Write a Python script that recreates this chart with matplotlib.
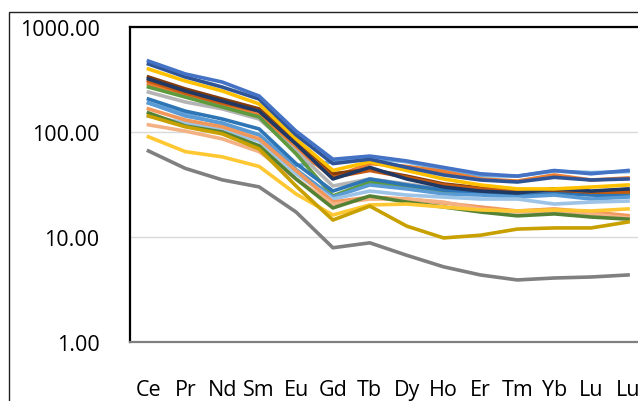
import numpy as np
import matplotlib
matplotlib.use("Agg")
import matplotlib.pyplot as plt
from matplotlib.patches import Rectangle

plt.rcParams['font.family'] = ['Open Sans', 'DejaVu Sans']

# REE categories (the last one is repeated in the original sheet)
elements = ["Ce", "Pr", "Nd", "Sm", "Eu", "Gd", "Tb", "Dy", "Ho", "Er", "Tm", "Yb", "Lu", "Lu"]

# normalised values, one list per sample
s_gray_low = [66, 45, 35, 30, 17.3, 7.9, 8.8, 6.7, 5.2, 4.35, 3.9, 4.07, 4.16, 4.35]
s_dark_gold = [142, 112, 96, 69, 30.6, 14.5, 19.7, 12.7, 9.8, 10.4, 11.9, 12.2, 12.2, 13.9]
s_yellow_low = [90, 65, 58, 47, 25.7, 16.2, 20.2, 20.6, 19.3, 18.1, 17.7, 18.1, 17.7, 18.5]
s_salmon = [117, 102, 86, 65, 35.7, 20.6, 23, 23, 21.5, 18.5, 17.3, 17.7, 16.6, 15.2]
s_salmon2 = [166, 130, 112, 86, 43, 21.5, 24, 23, 21.1, 19.3, 17.7, 18.5, 17.3, 16.0]
s_lightblue = [142, 122, 104, 82, 40, 23, 27.4, 25.1, 24, 23, 23, 20.6, 21.5, 22]
s_darkgreen = [152, 114, 100, 74, 35.7, 18.9, 24.6, 21.5, 19.3, 17.3, 15.9, 16.6, 15.5, 14.8]
s_blue_mid = [189, 142, 122, 94, 44, 24, 31.3, 28.7, 25.7, 25.1, 24, 25.1, 23, 24]
s_blue = [206, 158, 133, 107, 50, 27.4, 35.7, 31.3, 28, 26.3, 25.1, 26.3, 25.1, 24.6]
s_gray = [240, 193, 166, 133, 66, 30.6, 35.7, 32, 28.7, 27.4, 26.3, 27.4, 25.7, 25.7]
s_green = [268, 215, 173, 139, 62, 24.6, 33.4, 29.9, 26.8, 25.7, 25.1, 26.8, 25.7, 26.3]
s_orange_dk = [306, 235, 189, 158, 77, 37, 43, 37, 31.3, 28.7, 26.8, 28.7, 26.8, 26.8]
s_brown = [334, 257, 206, 166, 82, 40, 44, 38, 32, 29.3, 27.4, 28, 26.8, 27.4]
s_navy = [320, 246, 197, 158, 77, 35.7, 46, 35.7, 29.9, 27.4, 26.3, 28.7, 27.4, 28.7]
s_orange = [287, 220, 181, 145, 69, 37, 50, 47, 42, 35.7, 34.1, 39, 34.9, 36.5]
s_yellow = [398, 306, 246, 185, 86, 43, 52, 43, 35.7, 31.3, 28.7, 28.7, 29.9, 31.3]
s_lightblue2 = [189, 148, 119, 94, 48, 52, 57, 52, 44, 38.5, 38, 42.5, 41, 42]
s_darkblue = [444, 334, 268, 206, 94, 50, 55, 46, 39, 34.9, 33.4, 37, 34.9, 35.7]
s_blue_top = [474, 357, 299, 220, 102, 55, 59, 53, 46, 40, 38, 43, 40, 43]

series = [
    (s_lightblue2, '#6FA8DC'),
    (s_orange, '#ED7D31'),
    (s_gray, '#B4B4B4'),
    (s_green, '#5E9B3E'),
    (s_blue, '#2E75B6'),
    (s_blue_mid, '#5B9BD5'),
    (s_lightblue, '#9DC3E6'),
    (s_salmon2, '#F1975A'),
    (s_salmon, '#F4B183'),
    (s_darkgreen, '#548235'),
    (s_yellow_low, '#FFC832'),
    (s_dark_gold, '#C8A000'),
    (s_gray_low, '#808080'),
    (s_brown, '#843C0C'),
    (s_orange_dk, '#C55A11'),
    (s_navy, '#203864'),
    (s_yellow, '#FFC000'),
    (s_darkblue, '#2F5597'),
    (s_blue_top, '#4472C4'),
]

fig = plt.figure(figsize=(6.38, 4.02), dpi=100)
ax = fig.add_axes([130 / 638, 59 / 402, 516.5 / 638, 315 / 402])

x = np.arange(len(elements))
for vals, col in series:
    ax.plot(x, vals, color=col, lw=2.6, solid_joinstyle='round')

ax.set_yscale('log')
ax.set_ylim(1, 1000)
ax.set_xlim(-0.5, len(elements) - 0.5)
ax.set_yticks([1, 10, 100, 1000])
ax.set_yticklabels(["1.00", "10.00", "100.00", "1000.00"])
ax.yaxis.set_minor_locator(matplotlib.ticker.NullLocator())
ax.set_xticks(x)
ax.set_xticklabels(elements)
ax.tick_params(axis='y', length=0, pad=22, labelsize=15.5)
ax.tick_params(axis='x', length=0, pad=27, labelsize=15.5)
ax.grid(axis='y', color='#D9D9D9', lw=1)
ax.set_axisbelow(True)

for side in ['top', 'left']:
    ax.spines[side].set_color('black')
    ax.spines[side].set_linewidth(1.6)
ax.spines['right'].set_visible(False)
ax.spines['bottom'].set_color('#808080')
ax.spines['bottom'].set_linewidth(1.6)

# outer chart border
fig.patches.append(Rectangle((9 / 638, -0.2), 1.2, 1.2 - 13 / 402,
                             transform=fig.transFigure, fill=False,
                             edgecolor='#222222', lw=1.0))

fig.savefig("out.png", dpi=100)
